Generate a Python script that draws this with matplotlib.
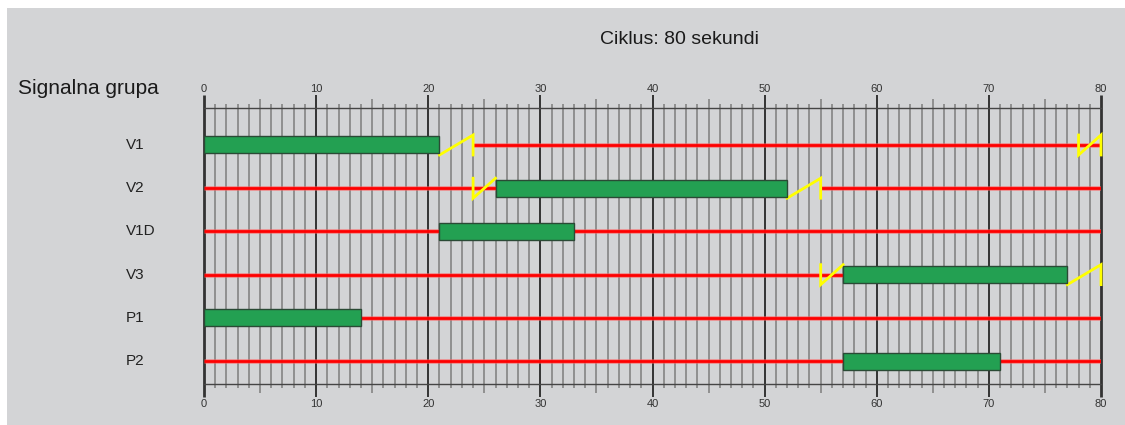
import matplotlib.pyplot as plt
from matplotlib.patches import Rectangle

plt.rcParams['font.family'] = ['Liberation Sans', 'DejaVu Sans']

# signal groups and their phases (seconds within the cycle)
cycle = 80
groups = ['V1', 'V2', 'V1D', 'V3', 'P1', 'P2']
green_start = [0, 26, 21, 57, 0, 57]
green_end = [21, 52, 33, 77, 14, 71]
yellow_start = [21, 52, None, 77, None, None]
yellow_end = [24, 55, None, 80, None, None]
redyellow_start = [78, 24, None, 55, None, None]
redyellow_end = [80, 26, None, 57, None, None]
tick_labels = [0, 10, 20, 30, 40, 50, 60, 70, 80]

fig = plt.figure(figsize=(11.25, 4.25), dpi=100)
fig.patch.set_facecolor('white')
fig.add_artist(Rectangle((7 / 1125, 0), 1118 / 1125, 417 / 425,
                         transform=fig.transFigure, facecolor='#d3d4d6',
                         edgecolor='none', zorder=-10))

# axes placed so that 0..80 s spans pixels 204..1101, axis lines at y 108 / 384
ax = fig.add_axes([204 / 1125, 41 / 425, 897 / 1125, 276 / 425])
ax.set_xlim(0, cycle)
y_top, y_bot = -0.856, 5.53
ax.set_ylim(y_bot, y_top)
ax.axis('off')

px = (y_bot - y_top) / 276.0  # data units per pixel (vertical)

# axis lines
ax.plot([0, cycle], [y_top, y_top], color='#454545', lw=1, clip_on=False, zorder=2)
ax.plot([0, cycle], [y_bot, y_bot], color='#454545', lw=1, clip_on=False, zorder=2)

# grid lines with ticks
for s in range(cycle + 1):
    if s % 10 == 0:
        ext, col, lw = 13, '#333333', 1.4
        if s in (0, cycle):
            lw = 2.0
    elif s % 5 == 0:
        ext, col, lw = 9, '#8a8a8a', 1.3
    else:
        ext, col, lw = 4, '#8a8a8a', 1.3
    ax.plot([s, s], [y_top - ext * px, y_bot + ext * px], color=col, lw=lw,
            clip_on=False, zorder=1, solid_capstyle='butt')

for t in tick_labels:
    ax.text(t, y_top - 16 * px, str(t), ha='center', va='baseline', fontsize=8, color='#333333')
    ax.text(t, y_bot + 23 * px, str(t), ha='center', va='baseline', fontsize=8, color='#333333')

bar_h = 17 * px
yel_h = 10 * px

for i, g in enumerate(groups):
    ax.text(-78 / 897 * cycle, i, g, ha='left', va='center', fontsize=11, color='#222222')

    # red where not green or yellow
    busy = [(green_start[i], green_end[i])]
    if yellow_start[i] is not None:
        busy.append((yellow_start[i], yellow_end[i]))
    busy.sort()
    segs = []
    pos = 0
    for a, b in busy:
        if a > pos:
            segs.append((pos, a))
        pos = max(pos, b)
    if pos < cycle:
        segs.append((pos, cycle))
    for a, b in segs:
        ax.plot([a, b], [i, i], color='#ff5a5a', lw=3.6, alpha=0.5, zorder=3, solid_capstyle='butt')
        ax.plot([a, b], [i, i], color='#ff0000', lw=2, zorder=3, solid_capstyle='butt')

    # green bar
    ax.add_patch(Rectangle((green_start[i], i - bar_h / 2), green_end[i] - green_start[i], bar_h,
                           facecolor='#23a052', edgecolor='#2a4a35', lw=1, zorder=5))

    # yellow: diagonal then vertical at end
    if yellow_start[i] is not None:
        a, b = yellow_start[i], yellow_end[i]
        ax.plot([a, b, b], [i + yel_h, i - yel_h, i + yel_h], color='#ffff00', lw=2,
                zorder=4, clip_on=False, solid_joinstyle='miter')

    # red-yellow: vertical at start then diagonal
    if redyellow_start[i] is not None:
        a, b = redyellow_start[i], redyellow_end[i]
        xs, ys = [a, a, b], [i - yel_h, i + yel_h, i - yel_h]
        if b == cycle:
            xs.append(b)
            ys.append(i + yel_h)
        ax.plot(xs, ys, color='#ffff00', lw=2, zorder=4, clip_on=False, solid_joinstyle='miter')

fig.text(18 / 1125, 1 - 88 / 425, 'Signalna grupa', ha='left', va='center', fontsize=15, color='#1a1a1a')
fig.text(680 / 1125, 1 - 40 / 425, 'Ciklus: 80 sekundi', ha='center', va='center', fontsize=14, color='#1a1a1a')

fig.savefig('out.png', dpi=100)
